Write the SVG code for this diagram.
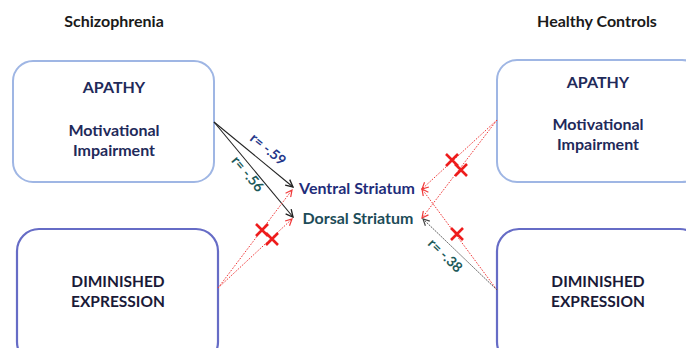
<svg xmlns="http://www.w3.org/2000/svg" width="686" height="348" viewBox="0 0 686 348">
<style>
text{font-family:Lato,"Open Sans","Liberation Sans",sans-serif;font-weight:bold;text-anchor:middle}
.hdr{font-size:16px;fill:#1a1a1a}
.nt{font-size:16px;fill:#1f2a5a}
.nd{font-size:15.5px;fill:#1a1a38}
.top{fill:#fff;stroke:#9fb6e4;stroke-width:2}
.bot{fill:#fff;stroke:#666cc6;stroke-width:2.2}
.blk{stroke:#222;stroke-width:1.1;fill:none}
.red{stroke:#f03a3a;stroke-width:1;stroke-dasharray:1.6 1.4;fill:none}
.gry{stroke:#555;stroke-width:1;stroke-dasharray:1.8 1;fill:none}
.x{stroke:#ee1c1c;stroke-width:2.6;fill:none}
.lbl{font-size:14px}
</style>
<defs>
<marker id="ab" viewBox="0 0 10 10" refX="9" refY="5" markerWidth="9" markerHeight="9" markerUnits="userSpaceOnUse" orient="auto"><path d="M1,1 L9,5 L1,9" fill="none" stroke="#222" stroke-width="1.5"/></marker>
<marker id="ar" viewBox="0 0 10 10" refX="9" refY="5" markerWidth="8" markerHeight="8" markerUnits="userSpaceOnUse" orient="auto"><path d="M1,1 L9,5 L1,9" fill="none" stroke="#f03a3a" stroke-width="1.5"/></marker>
<marker id="ag" viewBox="0 0 10 10" refX="9" refY="5" markerWidth="8" markerHeight="8" markerUnits="userSpaceOnUse" orient="auto"><path d="M1,1 L9,5 L1,9" fill="none" stroke="#444" stroke-width="1.5"/></marker>
</defs>
<rect width="686" height="348" fill="#fff"/>
<text class="hdr" x="114" y="27">Schizophrenia</text>
<text class="hdr" x="597" y="27">Healthy Controls</text>

<g id="sz-apathy">
<rect class="top" x="13" y="61" width="201" height="121" rx="20"/>
<text class="nt" x="114" y="93">APATHY</text>
<text class="nt" x="114" y="136">Motivational</text>
<text class="nt" x="114" y="156">Impairment</text>
</g>
<g id="sz-diminished">
<rect class="bot" x="17" y="229" width="201" height="135" rx="22"/>
<text class="nd" x="118" y="287">DIMINISHED</text>
<text class="nd" x="118" y="307">EXPRESSION</text>
</g>
<g id="hc-apathy">
<rect class="top" x="497" y="60" width="205" height="122" rx="20"/>
<text class="nt" x="598" y="88">APATHY</text>
<text class="nt" x="598" y="130">Motivational</text>
<text class="nt" x="598" y="150">Impairment</text>
</g>
<g id="hc-diminished">
<rect class="bot" x="497" y="229" width="205" height="135" rx="22"/>
<text class="nd" x="598" y="287">DIMINISHED</text>
<text class="nd" x="598" y="307">EXPRESSION</text>
</g>
<g id="ventral">
<text x="357" y="194" style="font-size:16px;fill:#1f2d7a">Ventral Striatum</text>
</g>
<g id="dorsal">
<text x="358" y="224" style="font-size:16px;fill:#1d4c58">Dorsal Striatum</text>
</g>

<g id="connectors">
<line class="blk" x1="214" y1="122" x2="293" y2="187" marker-end="url(#ab)"/>
<line class="blk" x1="214" y1="122" x2="293" y2="217" marker-end="url(#ab)"/>
<line class="red" x1="218" y1="288" x2="292" y2="190" marker-end="url(#ar)"/>
<line class="red" x1="218" y1="288" x2="292" y2="219" marker-end="url(#ar)"/>
<line class="red" x1="497" y1="120" x2="422" y2="189" marker-end="url(#ar)"/>
<line class="red" x1="497" y1="120" x2="422" y2="218" marker-end="url(#ar)"/>
<line class="red" x1="497" y1="290" x2="422" y2="189" marker-end="url(#ar)"/>
<line class="gry" x1="497" y1="290" x2="423" y2="219" marker-end="url(#ag)"/>
<text class="lbl" transform="translate(265,153) rotate(39.4)" style="fill:#24378a">r= -.59</text>
<text class="lbl" transform="translate(244,177) rotate(50)" style="fill:#1d5a5a">r= -.56</text>
<text class="lbl" transform="translate(442,259) rotate(44)" style="fill:#1d5a5a">r= -.38</text>
<path class="x" d="M256,224 L268,236 M268,224 L256,236"/>
<path class="x" d="M266,233 L278,245 M278,233 L266,245"/>
<path class="x" d="M446,154 L458,166 M458,154 L446,166"/>
<path class="x" d="M455,164 L467,176 M467,164 L455,176"/>
<path class="x" d="M451,228 L463,240 M463,228 L451,240"/>
</g>
</svg>
